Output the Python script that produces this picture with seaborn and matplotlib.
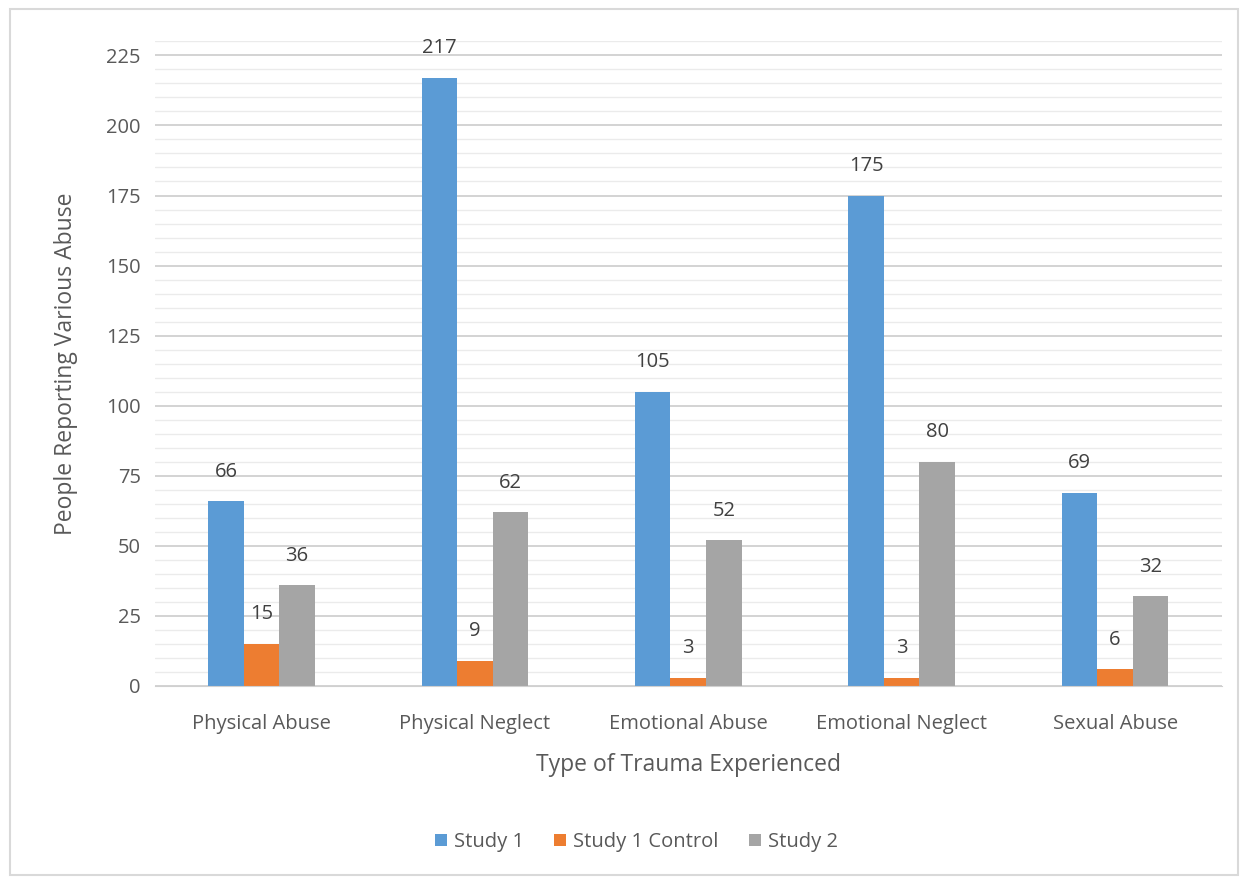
import pandas as pd
import seaborn as sns
import matplotlib.pyplot as plt
from matplotlib.ticker import MultipleLocator
from matplotlib.patches import Rectangle

# Data
categories = ["Physical Abuse", "Physical Neglect", "Emotional Abuse", "Emotional Neglect", "Sexual Abuse"]
study1 = [66, 217, 105, 175, 69]
study1_control = [15, 9, 3, 3, 6]
study2 = [36, 62, 52, 80, 32]
series = ["Study 1", "Study 1 Control", "Study 2"]
colors = ["#5B9BD5", "#ED7D31", "#A5A5A5"]

df = pd.DataFrame({
    "Type": categories * 3,
    "Series": [s for s in series for _ in categories],
    "Count": study1 + study1_control + study2,
})

sns.set_style("white")
plt.rcParams["font.family"] = ["Open Sans", "DejaVu Sans"]
text_color = "#595959"

fig = plt.figure(figsize=(12.48, 8.8), dpi=100)
ax = fig.add_axes([0.124, 0.2205, 0.855, 0.7325])

sns.barplot(data=df, x="Type", y="Count", hue="Series", palette=colors,
            width=0.5, saturation=1, linewidth=0, order=categories,
            hue_order=series, ax=ax, legend=True)

# value labels
for cont in ax.containers:
    ax.bar_label(cont, padding=14, fontsize=14.5, color="#404040")

ax.set_ylim(0, 230)
ax.yaxis.set_major_locator(MultipleLocator(25))
ax.yaxis.set_minor_locator(MultipleLocator(5))
ax.grid(axis="y", which="major", color="#D0D0D0", linewidth=1.3)
ax.grid(axis="y", which="minor", color="#EBEBEB", linewidth=1.0)
ax.set_axisbelow(True)
for side in ["top", "right", "left"]:
    ax.spines[side].set_visible(False)
ax.spines["bottom"].set_color("#D0D0D0")
ax.tick_params(axis="both", length=0, labelsize=14.5, colors=text_color, pad=10)
ax.tick_params(axis="x", pad=20)
ax.set_xlabel("Type of Trauma Experienced", fontsize=16.5, color=text_color, labelpad=14)
ax.set_ylabel("People Reporting Various Abuse", fontsize=16.5, color=text_color, labelpad=20)

handles, labels = ax.get_legend_handles_labels()
ax.legend_.remove()
fig.legend(handles, labels, loc="center", bbox_to_anchor=(0.51, 0.043), ncol=3,
           frameon=False, fontsize=14.5, labelcolor=text_color,
           handlelength=0.6, handleheight=0.6, handletextpad=0.35, columnspacing=1.5)

# light outer frame
fig.patches.append(Rectangle((0.008, 0.006), 0.984, 0.984, transform=fig.transFigure,
                             fill=False, edgecolor="#D9D9D9", linewidth=1.5))

fig.savefig("out.png", dpi=100)
